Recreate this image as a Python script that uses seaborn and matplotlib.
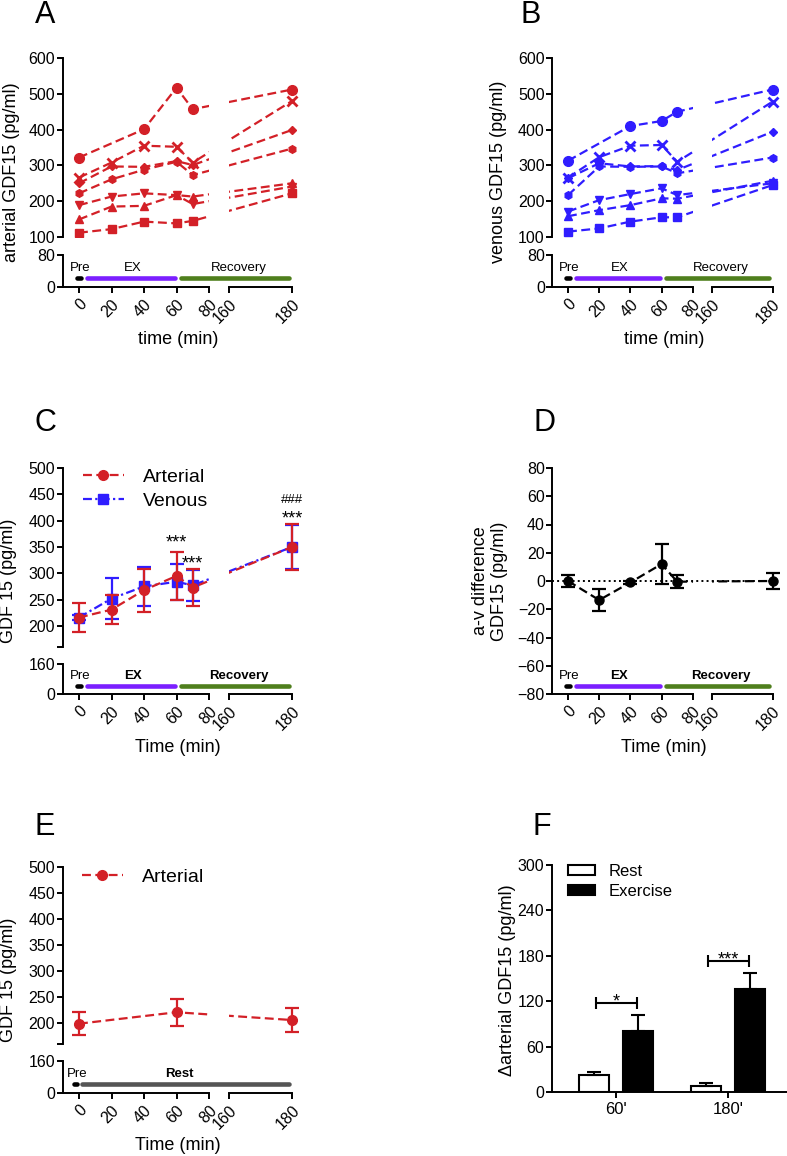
import numpy as np
import pandas as pd
import seaborn as sns
import matplotlib.pyplot as plt
from matplotlib.patches import Patch

W, H = 787, 1156

# sampling times (min)
times = [0, 20, 40, 60, 70, 180]

# A - arterial GDF15 (pg/ml), one list per subject
art_circle = [322, np.nan, 401, 517, 457, 512]
art_cross = [266, 308, 355, 352, 308, 480]
art_diamond = [250, 297, 296, 312, 301, 399]
art_hexagon = [222, 261, 288, 310, 273, 347]
art_down = [189, 213, 222, 217, 192, 241]
art_up = [149, 185, 187, 217, 213, 250]
art_square = [112, 122, 143, 138, 145, 222]

# B - venous GDF15 (pg/ml)
ven_circle = [313, np.nan, 410, 424, 450, 512]
ven_cross = [266, 323, 355, 357, 310, 478]
ven_diamond = [264, 306, 297, 298, 287, 394]
ven_hexagon = [217, 297, 296, 297, 278, 322]
ven_down = [171, 203, 220, 236, 217, 250]
ven_up = [158, 175, 189, 208, 207, 257]
ven_square = [115, 124, 143, 155, 155, 245]

subject_markers = ['o', 'x', 'D', 'h', 'v', '^', 's']
subject_sizes = [7, 7, 4.5, 5.5, 6, 6, 6]

# C - mean +/- SEM
art_mean = [216, 231, 268, 295, 273, 350]
art_sem = [27, 28, 41, 46, 35, 43]
ven_mean = [216, 252, 275, 284, 277, 350]
ven_sem = [5, 39, 37, 34, 30, 42]

# D - arterio-venous difference
av_mean = [0, -13.5, -1, 12, -0.5, 0]
av_sem = [4.2, 7.5, 1, 14.3, 4.7, 5.5]

# E - rest trial
rest_times = [0, 60, 180]
rest_mean = [199, 221, 206]
rest_sem = [22.5, 25.5, 23]

# F - change in arterial GDF15
f_labels = ["60'", "180'"]
f_rest = [22.4, 7.5]
f_rest_sem = [4.6, 3.9]
f_ex = [81, 136]
f_ex_sem = [20.6, 21.5]
f_stars = ['*', '***']
f_bracket_y = [118, 173]

# protocol bars
phase_names = ['Pre', 'EX', 'Recovery']
phase_from = [-1, 5, 63]
phase_to = [1, 59, 179]
phase_label_x = [1, 33, 163]
phase_colors = ['black', '#7b1fff', '#4f7f1d']
rest_names = ['Pre', 'Rest']
rest_from = [-3, 2]
rest_to = [-1, 179]
rest_label_x = [-1, 62]
rest_colors = ['black', '#555555']

RED = '#d32027'
BLUE = '#2f1dff'
DASH = (0, (4, 2))
DASHDOT = (0, (4, 1.5, 1, 1.5))

sns.set_theme(style='ticks', rc={
    'axes.linewidth': 1.4, 'axes.edgecolor': 'black',
    'xtick.major.width': 1.4, 'ytick.major.width': 1.4,
    'xtick.major.size': 4.5, 'ytick.major.size': 4,
    'xtick.labelsize': 11.5, 'ytick.labelsize': 11.5,
    'xtick.color': 'black', 'ytick.color': 'black', 'text.color': 'black',
    'xtick.major.pad': 2.5, 'ytick.major.pad': 1.5,
})
plt.rcParams['font.family'] = ['Liberation Sans', 'DejaVu Sans']

# broken time axis: 0-80 linear, 160-180 stretched
GAP, STRETCH = 12.3, 1.94


def fwd(x):
    x = np.asarray(x, dtype=float)
    return np.where(x <= 80, x, np.where(x >= 160, 80 + GAP + (x - 160) * STRETCH, 80 + (x - 80) * GAP / 80))


def inv(t):
    t = np.asarray(t, dtype=float)
    return np.where(t <= 80, t, np.where(t >= 80 + GAP, 160 + (t - 80 - GAP) / STRETCH, 80 + (t - 80) * 80 / GAP))


fig = plt.figure(figsize=(W / 100, H / 100), dpi=100)


def px_box(x1, y1, x2, y2):
    return [x1 / W, 1 - y2 / H, (x2 - x1) / W, (y2 - y1) / H]


def fig_text(x, y, s, **kw):
    fig.text(x / W, 1 - y / H, s, ha='center', va='center', **kw)


def time_axes(x0, p, y1, y2, show_x=True):
    left = fig.add_axes(px_box(x0 - 10 * p, y1, x0 + 80 * p, y2))
    right = fig.add_axes(px_box(x0 + float(fwd(160)) * p, y1, x0 + float(fwd(185)) * p, y2))
    for ax in (left, right):
        ax.set_xscale('function', functions=(fwd, inv))
        ax.patch.set_alpha(0)
        sns.despine(ax=ax)
    left.set_xlim(-10, 80)
    right.set_xlim(160, 185)
    right.spines['left'].set_visible(False)
    right.tick_params(axis='y', left=False, labelleft=False)
    if show_x:
        left.set_xticks([0, 20, 40, 60, 80])
        right.set_xticks([160, 180])
        right.spines['bottom'].set_bounds(160, 180)
        left.set_xticks([80], minor=True)
        right.set_xticks([160, 180], minor=True)
        for ax in (left, right):
            ax.tick_params(axis='x', which='minor', direction='inout', length=9, width=1.4)
            plt.setp(ax.get_xticklabels(), rotation=45, ha='right', rotation_mode='anchor')
    else:
        for ax in (left, right):
            ax.spines['bottom'].set_visible(False)
            ax.tick_params(axis='x', bottom=False, labelbottom=False)
    return left, right


def draw_phases(ax, y_bar, y_text, starts, ends, colors, names, label_x, bold):
    for a, b, c in zip(starts, ends, colors):
        ax.plot([a, b], [y_bar, y_bar], color=c, lw=3.3, solid_capstyle='round', clip_on=False)
    for i, (name, lx) in enumerate(zip(names, label_x)):
        weight = 'bold' if (bold and i > 0) else 'normal'
        ax.text(lx, y_text, name, ha='center', va='center', fontsize=9.5,
                fontweight=weight, clip_on=False)


def individual_panel(x0, p, series, color, ylabel, letter, lx, cx):
    top = time_axes(x0, p, 58, 237, show_x=False)
    bot = time_axes(x0, p, 255, 287)
    for ax in top:
        for vals, m, ms in zip(series, subject_markers, subject_sizes):
            y = np.asarray(vals, dtype=float)
            ok = ~np.isnan(y)
            ax.plot(np.asarray(times)[ok], y[ok], ls=DASH, lw=1.6, color=color,
                    marker=m, ms=ms, mew=2 if m == 'x' else 1)
        ax.set_ylim(100, 600)
    top[0].set_yticks(range(100, 601, 100))
    for ax in bot:
        ax.set_ylim(0, 80)
    bot[0].set_yticks([0, 80])
    draw_phases(bot[0], 23, 47, phase_from, phase_to, phase_colors, phase_names, phase_label_x, False)
    fig_text(lx, 172, ylabel, rotation=90, fontsize=13)
    fig_text(cx, 339, 'time (min)', fontsize=13)
    fig_text(cx - 133, 15, letter, fontsize=22)


# ---- A and B ----
individual_panel(79, 1.625, [art_circle, art_cross, art_diamond, art_hexagon, art_down, art_up, art_square],
                 RED, 'arterial GDF15 (pg/ml)', 'A', 12, 178)
individual_panel(568, 1.56, [ven_circle, ven_cross, ven_diamond, ven_hexagon, ven_down, ven_up, ven_square],
                 BLUE, 'venous GDF15 (pg/ml)', 'B', 498, 664)


def mean_sem(axes, x, m, s, color, marker, ls, ms=7, label=None):
    for ax in axes:
        ax.errorbar(x, m, yerr=s, fmt='none', ecolor=color, elinewidth=1.6, capsize=5, capthick=1.6)
        ax.plot(x, m, color=color, ls=ls, lw=1.6, marker=marker, ms=ms, label=label)


def gdf_axes(x0, p, y_top, y_split, y_bot):
    top = time_axes(x0, p, y_top, y_split, show_x=False)
    bot = time_axes(x0, p, y_split + 17, y_bot)
    for ax in top:
        ax.set_ylim(160, 500)
    top[0].set_yticks([160] + list(range(200, 501, 50)))
    top[0].set_yticklabels([''] + [str(v) for v in range(200, 501, 50)])
    for ax in bot:
        ax.set_ylim(0, 160)
    bot[0].set_yticks([0, 160])
    return top, bot


# ---- C ----
c_top, c_bot = gdf_axes(79, 1.625, 468, 647, 694)
mean_sem(c_top, times, ven_mean, ven_sem, BLUE, 's', DASHDOT, label='Venous')
mean_sem(c_top, times, art_mean, art_sem, RED, 'o', DASH, label='Arterial')
h, l = c_top[0].get_legend_handles_labels()
c_top[0].legend(h[::-1], l[::-1], loc='upper left', bbox_to_anchor=(83 / W, 1 - 468 / H),
                bbox_transform=fig.transFigure, frameon=False, fontsize=14, handlelength=2.1,
                handletextpad=1.0, labelspacing=0.35, borderpad=0, borderaxespad=0)
c_top[0].text(60, 349, '***', fontsize=13, ha='center', va='baseline')
c_top[0].text(70, 309, '***', fontsize=13, ha='center', va='baseline', clip_on=False)
c_top[1].text(180, 434, '###', fontsize=9.5, ha='center', va='baseline', clip_on=False)
c_top[1].text(180, 395, '***', fontsize=13, ha='center', va='baseline', clip_on=False)
draw_phases(c_bot[0], 43, 96, phase_from, phase_to, phase_colors, phase_names, phase_label_x, True)
fig_text(9, 581, 'GDF 15 (pg/ml)', rotation=90, fontsize=13)
fig_text(178, 747, 'Time (min)', fontsize=13)
fig_text(45, 423, 'C', fontsize=22)

# ---- D ----
d_axes = time_axes(568, 1.56, 468, 694)
for ax in d_axes:
    ax.set_ylim(-80, 80)
d_axes[0].set_yticks(range(-80, 81, 20))
d_axes[0].plot([-10, times[-1]], [0, 0], ls=':', color='black', lw=1.4, clip_on=False)
mean_sem(d_axes, times, av_mean, av_sem, 'black', 'o', DASH, ms=6.5)
draw_phases(d_axes[0], -74.5, -67, phase_from, phase_to, phase_colors, phase_names, phase_label_x, True)
fig_text(490, 581, 'a-v difference\nGDF15 (pg/ml)', rotation=90, fontsize=13, linespacing=1.1)
fig_text(664, 747, 'Time (min)', fontsize=13)
fig_text(545, 423, 'D', fontsize=22)

# ---- E ----
e_top, e_bot = gdf_axes(79, 1.625, 867, 1044, 1093)
mean_sem(e_top, rest_times, rest_mean, rest_sem, RED, 'o', DASH, label='Arterial')
e_top[0].legend(loc='upper left', bbox_to_anchor=(82 / W, 1 - 868 / H),
                bbox_transform=fig.transFigure, frameon=False, fontsize=14, handlelength=2.1,
                handletextpad=1.0, borderpad=0, borderaxespad=0)
draw_phases(e_bot[0], 45, 95, rest_from, rest_to, rest_colors, rest_names, rest_label_x, True)
fig_text(9, 980, 'GDF 15 (pg/ml)', rotation=90, fontsize=13)
fig_text(178, 1145, 'Time (min)', fontsize=13)
fig_text(45, 827, 'E', fontsize=22)

# ---- F ----
df_f = pd.DataFrame({
    'time': f_labels * 2,
    'condition': ['Rest'] * len(f_labels) + ['Exercise'] * len(f_labels),
    'value': f_rest + f_ex,
})
bar_colors = {'Rest': 'white', 'Exercise': 'black'}
ax_f = fig.add_axes(px_box(552, 865, 787, 1092))
sns.barplot(data=df_f, x='time', y='value', hue='condition', palette=bar_colors,
            edgecolor='black', linewidth=1.5, gap=0.33, errorbar=None, legend=False, ax=ax_f)
for offset, vals, errs in [(-0.2, f_rest, f_rest_sem), (0.2, f_ex, f_ex_sem)]:
    xs = np.arange(len(vals)) + offset
    ax_f.errorbar(xs, vals, yerr=[np.zeros(len(errs)), errs], fmt='none', ecolor='black',
                  elinewidth=1.5, capsize=5, capthick=1.5, zorder=1)
for g, (star, by) in enumerate(zip(f_stars, f_bracket_y)):
    ax_f.plot([g - 0.18, g + 0.19], [by, by], color='black', lw=1.5, marker='|', ms=8, mew=1.5)
    ax_f.text(g, by - 5, star, fontsize=13, ha='center', va='baseline')
ax_f.set_xlim(-0.571, 1.527)
ax_f.set_ylim(0, 300)
ax_f.set_yticks(range(0, 301, 60))
ax_f.set_xlabel('')
ax_f.set_ylabel('')
ax_f.tick_params(axis='x', labelsize=12)
sns.despine(ax=ax_f)
ax_f.legend(handles=[Patch(facecolor=bar_colors[k], edgecolor='black', linewidth=1.5) for k in ['Rest', 'Exercise']],
            labels=['Rest', 'Exercise'], loc='upper left', bbox_to_anchor=(568 / W, 1 - 864 / H),
            bbox_transform=fig.transFigure, frameon=False, fontsize=12, handlelength=1.6,
            handleheight=0.6, handletextpad=0.85, labelspacing=0.3, borderpad=0, borderaxespad=0)
fig_text(508, 980, 'Δarterial GDF15 (pg/ml)', rotation=90, fontsize=13)
fig_text(542, 827, 'F', fontsize=22)

fig.savefig('out.png', dpi=100)
